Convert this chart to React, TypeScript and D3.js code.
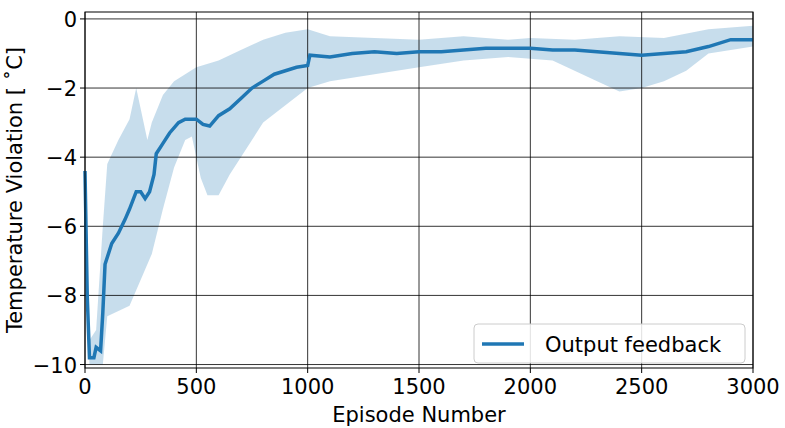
import React from "react"
import * as d3 from "d3"

// ---------- Data ----------
const meanX = [0, 10, 20, 40, 50, 70, 80, 90, 120, 150, 180, 200, 230, 250, 270, 290, 310, 320, 350, 380, 420, 450, 500, 530, 560, 600, 650, 700, 750, 800, 850, 900, 950, 1000, 1010, 1100, 1200, 1300, 1400, 1500, 1600, 1700, 1800, 1900, 2000, 2100, 2200, 2300, 2400, 2500, 2600, 2700, 2800, 2900, 3000]
const meanY = [-4.4, -8, -9.8, -9.8, -9.5, -9.6, -8.5, -7.1, -6.5, -6.2, -5.8, -5.5, -5.0, -5.0, -5.2, -5.0, -4.5, -3.9, -3.6, -3.3, -3.0, -2.9, -2.9, -3.05, -3.1, -2.8, -2.6, -2.3, -2.0, -1.8, -1.6, -1.5, -1.4, -1.35, -1.05, -1.1, -1.0, -0.95, -1.0, -0.95, -0.95, -0.9, -0.85, -0.85, -0.85, -0.9, -0.9, -0.95, -1.0, -1.05, -1.0, -0.95, -0.8, -0.6, -0.6]

const upperX = [0, 20, 50, 80, 100, 150, 200, 230, 250, 280, 300, 350, 400, 500, 600, 700, 800, 900, 1000, 1100, 1300, 1500, 1700, 1900, 2000, 2200, 2400, 2600, 2800, 3000]
const upperY = [-4.4, -9.3, -9.0, -6, -4.2, -3.5, -2.9, -2.0, -2.6, -3.5, -3.0, -2.2, -1.8, -1.4, -1.2, -0.9, -0.6, -0.4, -0.3, -0.5, -0.55, -0.6, -0.5, -0.6, -0.55, -0.6, -0.5, -0.55, -0.3, -0.2]

const lowerX = [0, 20, 80, 100, 200, 300, 350, 400, 450, 480, 520, 550, 600, 650, 700, 800, 900, 1000, 1100, 1300, 1500, 1700, 1900, 2100, 2300, 2400, 2500, 2600, 2700, 2800, 3000]
const lowerY = [-4.4, -10, -10, -8.6, -8.3, -6.8, -5.5, -4.3, -3.5, -3.4, -4.6, -5.1, -5.1, -4.5, -4.0, -3.0, -2.5, -2.0, -1.8, -1.6, -1.4, -1.2, -1.1, -1.2, -1.8, -2.1, -2.0, -1.8, -1.5, -1.0, -0.8]

const xTicks = [0, 500, 1000, 1500, 2000, 2500, 3000]
const yTicks = [0, -2, -4, -6, -8, -10]

const W = 785, H = 428
const left = 85, right = 753, top = 12, bottom = 368
const font = "DejaVu Sans, sans-serif"

export default function App() {
    const x = d3.scaleLinear().domain([0, 3000]).range([left, right])
    const y = d3.scaleLinear().domain([-10.1, 0.2]).range([bottom, top])

    // band: upper path forward, lower path back
    const bandPts: [number, number][] = [
        ...upperX.map((v, i) => [x(v), y(upperY[i])] as [number, number]),
        ...lowerX.map((v, i) => [x(v), y(lowerY[i])] as [number, number]).reverse()
    ]
    const band = d3.line()(bandPts) + "Z"
    const line = d3.line<number>().x(v => x(v)).y((_, i) => y(meanY[i]))(meanX) ?? ""

    return (
        <svg width={W} height={H} style={{ position: "absolute", left: 0, top: 0 }} fontFamily={font}>
            <rect width={W} height={H} fill="#fff" />
            <path d={band} fill="#1f77b4" fillOpacity={0.25} />
            {xTicks.map(t => (
                <g key={"x" + t}>
                    <line x1={x(t)} x2={x(t)} y1={top} y2={bottom} stroke="#000" strokeWidth={0.8} />
                    <line x1={x(t)} x2={x(t)} y1={bottom} y2={bottom + 5} stroke="#000" />
                    <text x={x(t)} y={bottom + 26} fontSize={21} textAnchor="middle">{t}</text>
                </g>
            ))}
            {yTicks.map(t => (
                <g key={"y" + t}>
                    <line x1={left} x2={right} y1={y(t)} y2={y(t)} stroke="#000" strokeWidth={0.8} />
                    <line x1={left - 5} x2={left} y1={y(t)} y2={y(t)} stroke="#000" />
                    <text x={left - 8} y={y(t) + 8} fontSize={21} textAnchor="end">{t < 0 ? "\u2212" + Math.abs(t) : t}</text>
                </g>
            ))}
            <path d={line} fill="none" stroke="#1f77b4" strokeWidth={3.5} />
            <rect x={left} y={top} width={right - left} height={bottom - top} fill="none" stroke="#000" />
            <text x={(left + right) / 2} y={422} fontSize={21} textAnchor="middle">Episode Number</text>
            <text transform={`translate(22,${(top + bottom) / 2}) rotate(-90)`} fontSize={21} textAnchor="middle">Temperature Violation [ ˚C]</text>
            <g>
                <rect x={474} y={324} width={271} height={39} rx={4} fill="#fff" fillOpacity={0.85} stroke="#ccc" />
                <line x1={482} x2={524} y1={344} y2={344} stroke="#1f77b4" strokeWidth={3.5} />
                <text x={545} y={352} fontSize={21}>Output feedback</text>
            </g>
        </svg>
    )
}
